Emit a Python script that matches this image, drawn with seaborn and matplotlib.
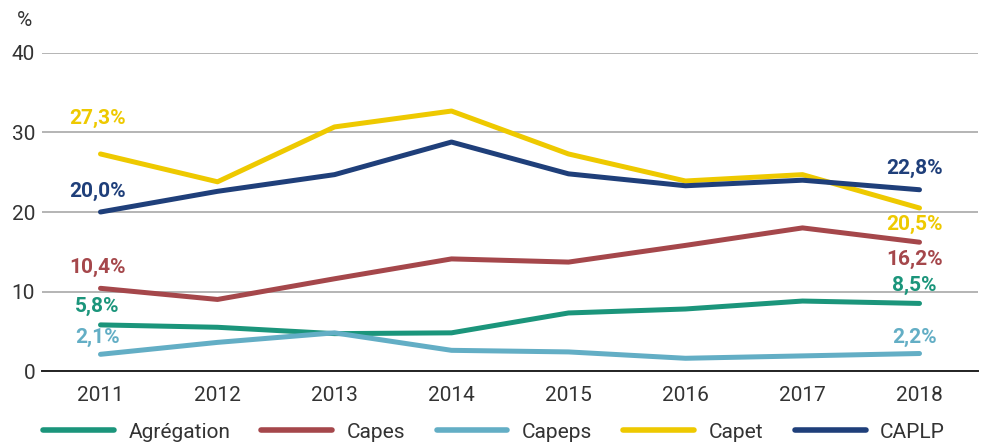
import numpy as np
import pandas as pd
import seaborn as sns
import matplotlib.pyplot as plt
from matplotlib.lines import Line2D

years = [2011, 2012, 2013, 2014, 2015, 2016, 2017, 2018]
agregation = [5.8, 5.5, 4.7, 4.8, 7.3, 7.8, 8.8, 8.5]
capes = [10.4, 9.0, 11.6, 14.1, 13.7, 15.8, 18.0, 16.2]
capeps = [2.1, 3.6, 4.8, 2.6, 2.4, 1.6, 1.9, 2.2]
capet = [27.3, 23.8, 30.7, 32.7, 27.3, 23.9, 24.7, 20.5]
caplp = [20.0, 22.6, 24.7, 28.8, 24.8, 23.3, 24.0, 22.8]

names = ["Agrégation", "Capes", "Capeps", "Capet", "CAPLP"]
series = [agregation, capes, capeps, capet, caplp]
colors = ["#1b957b", "#a5474b", "#63aec5", "#eec900", "#1f3f7a"]
palette = dict(zip(names, colors))

df = pd.DataFrame({
    "annee": years * len(names),
    "taux": [v for s in series for v in s],
    "concours": [n for n in names for _ in years],
})

sns.set_style("white")
plt.rcParams["font.family"] = ["Roboto", "DejaVu Sans"]
fs = 15

fig = plt.figure(figsize=(9.82, 4.44), dpi=100)
ax = fig.add_axes([42 / 982, 1 - 371 / 444, 936 / 982, 318 / 444])

sns.lineplot(data=df, x="annee", y="taux", hue="concours", palette=palette,
             hue_order=names, linewidth=3.6, ax=ax, legend=False,
             solid_capstyle="round")

ax.set_xlim(2010.5, 2018.5)
ax.set_ylim(0, 40)
ax.set_yticks([0, 10, 20, 30, 40])
ax.set_xticks(years)
ax.set_xticks(np.arange(2010.5, 2019, 1), minor=True)
ax.tick_params(axis="x", which="major", length=0, pad=11, labelsize=fs, colors="#333333")
ax.tick_params(axis="x", which="minor", length=7, width=1.2, color="#222222", direction="out")
ax.tick_params(axis="y", length=0, pad=5, labelsize=fs, colors="#333333")
ax.grid(axis="y", color="#a8a8a8", linewidth=1.2)
ax.set_axisbelow(True)
for side in ["left", "right", "top"]:
    ax.spines[side].set_visible(False)
ax.spines["bottom"].set_color("#222222")
ax.spines["bottom"].set_linewidth(1.4)
ax.set_xlabel("")
ax.set_ylabel("")
fig.text(24 / 982, 1 - 21 / 444, "%", fontsize=fs, color="#333333", ha="center", va="center")

# valeurs de début et de fin
start_off = {"Agrégation": 18, "Capes": 21, "Capeps": 17, "Capet": 36, "CAPLP": 21}
end_off = {"Agrégation": 18, "Capes": -17, "Capeps": 16, "Capet": -16, "CAPLP": 21}
for n, s in zip(names, series):
    ax.annotate(f"{s[0]:.1f}%".replace(".", ","), (years[0], s[0]),
                xytext=(-3, start_off[n]), textcoords="offset pixels",
                ha="center", va="center", fontsize=fs, fontweight="bold", color=palette[n])
    ax.annotate(f"{s[-1]:.1f}%".replace(".", ","), (years[-1], s[-1]),
                xytext=(-5, end_off[n]), textcoords="offset pixels",
                ha="center", va="center", fontsize=fs, fontweight="bold", color=palette[n])

handles = [Line2D([0], [0], color=palette[n], linewidth=4, solid_capstyle="round") for n in names]
fig.legend(handles, names, loc="center", bbox_to_anchor=(0.503, 1 - 432 / 444), ncol=5,
           frameon=False, fontsize=fs, handlelength=3.4, columnspacing=1.5,
           handletextpad=0.7, labelcolor="#333333")

fig.savefig("out.png", dpi=100)
